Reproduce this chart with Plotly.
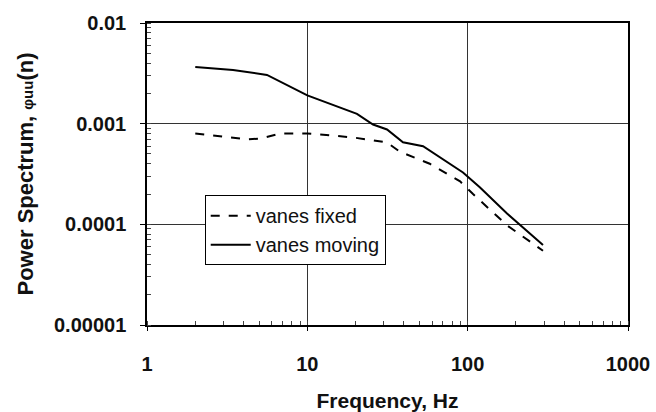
import plotly.graph_objects as go

freq_fixed = [2, 4.2, 5.1, 6.8, 10, 19.3, 31.4, 37.9, 58, 89.7, 108, 176, 295]
psd_fixed = [0.0008, 0.0007, 0.00071, 0.0008, 0.0008, 0.00073, 0.00065, 0.000525, 0.0004, 0.000267, 0.0002, 0.0000977, 0.0000547]

freq_moving = [2, 3.44, 5.6, 10, 20.4, 25.7, 31.4, 39.5, 52.7, 77.6, 93.5, 119, 176, 295]
psd_moving = [0.00365, 0.00342, 0.00305, 0.00191, 0.00125, 0.00098, 0.000875, 0.000654, 0.000598, 0.0004, 0.000327, 0.000234, 0.000128, 0.0000625]

x_ticks = [1, 10, 100, 1000]
x_ticktext = ["1", "10", "100", "1000"]
y_ticks = [0.00001, 0.0001, 0.001, 0.01]
y_ticktext = ["0.00001", "0.0001", "0.001", "0.01"]

FONT = "Arial, Liberation Sans, sans-serif"
fig = go.Figure()
fig.add_trace(go.Scatter(x=freq_fixed, y=psd_fixed, mode="lines", name="vanes fixed",
                         line=dict(color="black", width=2, dash="dash")))
fig.add_trace(go.Scatter(x=freq_moving, y=psd_moving, mode="lines", name="vanes moving",
                         line=dict(color="black", width=2)))

axis_font = dict(family=FONT, size=20, color="#111")
fig.update_xaxes(type="log", range=[0, 3], tickvals=x_ticks,
                 ticktext=["<b>%s</b>" % t for t in x_ticktext],
                 showgrid=True, gridcolor="#333", gridwidth=1,
                 showline=True, linecolor="black", linewidth=1.5, mirror=True,
                 ticks="outside", ticklen=4, tickcolor="black", ticklabelstandoff=16,
                 minor=dict(dtick="D1", ticks="inside", ticklen=4, tickcolor="#444", showgrid=False),
                 tickfont=axis_font, zeroline=False, automargin=False,
                 title=dict(text="<b>Frequency, Hz</b>", font=dict(family=FONT, size=21, color="#111"), standoff=20))
fig.update_yaxes(type="log", range=[-5, -2], tickvals=y_ticks,
                 ticktext=["<b>%s</b>" % t for t in y_ticktext],
                 showgrid=True, gridcolor="#333", gridwidth=1,
                 showline=True, linecolor="black", linewidth=1.5, mirror=True,
                 ticks="outside", ticklen=5, tickcolor="black", ticklabelstandoff=10,
                 minor=dict(dtick="D1", ticks="inside", ticklen=4, tickcolor="#444", showgrid=False),
                 tickfont=axis_font, zeroline=False,
                 title=dict(text="<b>Power Spectrum, <span style='font-size:15px'>φuu</span>(n)</b>",
                            font=dict(family=FONT, size=22, color="#111"), standoff=14))

fig.update_layout(
    width=656, height=412,
    margin=dict(l=147, r=28, t=15, b=87),
    paper_bgcolor="white", plot_bgcolor="white",
    font=dict(family=FONT, color="#111"),
    legend=dict(x=0.12, y=0.43, xanchor="left", yanchor="top",
                bgcolor="white", bordercolor="black", borderwidth=1,
                font=dict(size=20, family=FONT, color="#111"),
                itemwidth=40, tracegroupgap=2),
    showlegend=True,
)

fig.write_html("out.html")
